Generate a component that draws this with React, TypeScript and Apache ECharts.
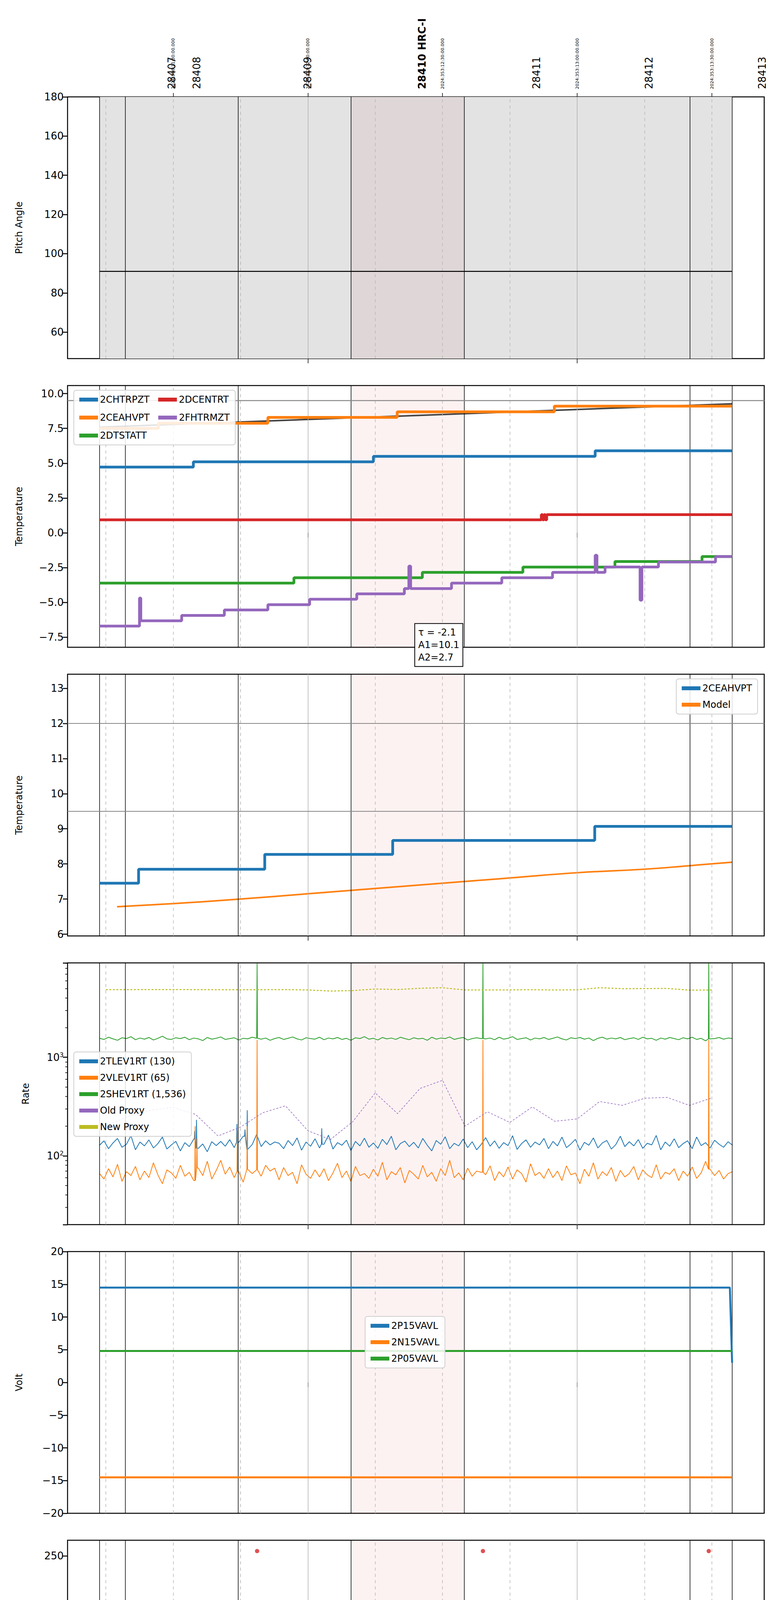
import { useEffect, useRef } from 'react';
import * as echarts from 'echarts';

// time axis: minutes after 06:00 on 2024-12-18
const X_MIN = 6.48;
const X_MAX = 161.65;
const QUARTERS = [15, 30, 45, 75, 90, 105, 135, 150];
const HOURS = [60, 120];
const EVENTS = [13.6, 19.3, 44.5, 69.6, 94.8, 145.1, 154.5];
const OBS_WINDOW = [69.6, 94.8];
const PITCH_WINDOW = [13.6, 154.5];

const OBSIDS = ['28407', '28408', '28409', '28410 HRC-I', '28411', '28412', '28413'];
const OBSID_T = [29.7, 35.3, 60.0, 85.5, 110.9, 136.0, 161.2];
const STAMP_T = [30, 60, 90, 120, 150];
const STAMPS = ['2024:353:11:30:00.000', '2024:353:12:00:00.000', '2024:353:12:30:00.000', '2024:353:13:00:00.000', '2024:353:13:30:00.000'];

// panel 1
const PITCH = [[13.6, 91], [154.5, 91]];

// panel 2
const CHTRPZT = [[13.6, 4.72], [34.5, 5.10], [74.6, 5.49], [124.0, 5.89], [154.5, 5.89]];
const CEAHVPT = [[13.6, 7.5], [26.7, 7.87], [51.1, 8.29], [79.9, 8.69], [114.9, 9.10], [154.5, 9.10]];
const CEAHVPT_FIT = [[13.6, 7.59], [154.5, 9.27]];
const DTSTATT = [[13.6, -3.62], [56.9, -3.23], [85.5, -2.85], [107.9, -2.47], [128.4, -2.07], [147.8, -1.71], [154.5, -1.71]];
const DCENTRT = [[13.6, 0.93], [112.0, 1.3], [112.3, 0.93], [112.6, 1.3], [112.9, 0.93], [113.2, 1.3], [154.5, 1.3]];
const FHTRMZT_A = [[13.6, -6.71], [22.5, -4.69], [22.8, -6.33], [31.9, -5.94], [41.4, -5.55], [51.1, -5.17], [60.4, -4.78], [70.9, -4.39], [81.5, -4.01], [82.5, -2.40], [82.9, -4.01], [92.0, -3.62], [103.2, -3.23], [114.5, -2.85], [124.0, -1.62], [124.4, -2.85], [126.2, -2.46], [134.0, -4.85], [134.4, -2.46], [138.1, -2.10], [150.8, -1.71], [154.5, -1.71]];
const FIT_TEXT = ['τ = -2.1', 'A1=10.1', 'A2=2.7'];

// panel 3
const CEAHVPT_B = [[13.6, 7.45], [22.3, 7.85], [50.4, 8.27], [78.9, 8.67], [123.9, 9.07], [154.5, 9.07]];
const MODEL = [[17.5, 6.78], [30, 6.87], [45, 7.0], [60, 7.15], [75, 7.3], [90, 7.45], [105, 7.6], [120, 7.75], [135, 7.85], [145, 7.95], [154.5, 8.05]];

// panel 4 (one sample per minute from 13.6)
const RATE_T0 = 13.6;
const TLEV1RT = [
  128, 142, 118, 135, 150, 122, 131, 160, 115, 138,
  126, 145, 120, 133, 155, 117, 129, 140, 112, 136,
  124, 148, 119, 132, 110, 139, 127, 140, 125, 146,
  121, 137, 158, 116, 130, 165, 124, 142, 129, 138,
  134, 118, 143, 127, 152, 114, 138, 125, 149, 120,
  131, 162, 117, 136, 128, 144, 113, 140, 126, 151,
  122, 135, 119, 147, 130, 158, 115, 133, 141, 124,
  137, 120, 150, 128, 112, 143, 131, 156, 118, 134,
  126, 148, 121, 139, 115, 130, 153, 125, 142, 119,
  136, 127, 160, 116, 133, 145, 122, 138, 129, 150,
  118, 140, 126, 155, 121, 132, 147, 114, 137, 128,
  152, 120, 135, 143, 117, 130, 158, 124, 139, 126,
  146, 119, 134, 129, 161, 115, 138, 125, 149, 121,
  133, 142, 118, 155, 127, 136, 120, 144, 131, 122,
  139, 128,
];
const VLEV1RT = [
  66, 58, 74, 61, 82, 55, 69, 63, 78, 57,
  70, 60, 85, 64, 52, 72, 67, 59, 80, 62,
  68, 56, 75, 63, 88, 58, 71, 90, 65, 77,
  60, 69, 54, 73, 66, 72, 62, 80, 70, 75,
  57, 76, 63, 68, 52, 81, 65, 59, 72, 61,
  74, 56, 67, 84, 60, 70, 55, 78, 63, 66,
  59, 73, 62, 86, 57, 69, 64, 76, 53, 71,
  65, 58, 80, 61, 68, 55, 74, 63, 90, 60,
  67, 57, 75, 62, 70, 68, 64, 79, 56, 69,
  61, 77, 58, 72, 66, 54, 83, 63, 68, 59,
  74, 60, 70, 56, 79, 64, 67, 52, 73, 62,
  85, 58, 69, 63, 76, 55, 71, 61, 66, 78,
  57, 72, 64, 60, 81, 58, 68, 65, 74, 56,
  70, 62, 77, 59, 67, 88, 73, 63, 71, 58,
  66, 69,
];
const SHEV1RT = [
  1560, 1520, 1600, 1540, 1490, 1580, 1550, 1620, 1510, 1570,
  1530, 1590, 1500, 1560, 1640, 1540, 1520, 1580, 1550, 1600,
  1510, 1570, 1540, 1480, 1590, 1530, 1560, 1610, 1520, 1550,
  1580, 1500, 1560, 1540, 1600, 1560, 1530, 1570, 1490, 1550,
  1590, 1520, 1560, 1610, 1540, 1500, 1580, 1550, 1530, 1600,
  1510, 1570, 1540, 1590, 1520, 1560, 1490, 1580, 1550, 1620,
  1530, 1560, 1500, 1590, 1540, 1570, 1520, 1600, 1550, 1510,
  1580, 1540, 1560, 1490, 1600, 1530, 1570, 1550, 1610, 1520,
  1560, 1590, 1500, 1550, 1580, 1550, 1540, 1570, 1510, 1600,
  1530, 1560, 1620, 1520, 1550, 1580, 1500, 1570, 1540, 1590,
  1520, 1560, 1610, 1540, 1500, 1580, 1550, 1590, 1530, 1570,
  1480, 1560, 1600, 1530, 1570, 1540, 1590, 1510, 1550, 1580,
  1520, 1600, 1540, 1560, 1490, 1570, 1530, 1590, 1550, 1510,
  1580, 1540, 1600, 1520, 1560, 1470, 1540, 1550, 1590, 1530,
  1570, 1550,
];
// narrow spikes [time, value]
const TLEV1RT_SPIKES = [[34.8, 178], [35.2, 232], [44.2, 210], [46.0, 185], [46.5, 290], [63.1, 190]];
const VLEV1RT_SPIKES = [[34.9, 200], [35.3, 150], [48.7, 1500], [44.3, 180], [46.5, 200], [99.0, 1500], [149.3, 1500]];
const SHEV1RT_SPIKES = [[48.7, 9000], [99.0, 9000], [149.3, 9000]];
const PROXY_T = [15, 20, 25, 30, 35, 40, 45, 50, 55, 60, 65, 70, 75, 80, 85, 90, 95, 100, 105, 110, 115, 120, 125, 130, 135, 140, 145, 150];
const OLD_PROXY = [200, 250, 290, 311, 263, 159, 196, 274, 322, 180, 146, 222, 435, 268, 483, 584, 200, 280, 218, 314, 224, 237, 356, 325, 384, 392, 325, 387];
const NEW_PROXY = [4870, 4870, 4880, 4880, 4870, 4860, 4850, 4860, 4870, 4830, 4710, 4760, 4940, 4880, 5030, 5090, 4830, 4830, 4840, 4860, 4830, 4850, 5090, 4980, 4990, 5010, 4810, 4830];

// panel 5
const P15VAVL = [[13.6, 14.5], [154.0, 14.5], [154.5, 3.0]];
const N15VAVL = [[13.6, -14.5], [154.5, -14.5]];
const P05VAVL = [[13.6, 4.8], [154.5, 4.8]];

// panel 6
const HV_SPAN = [13.6, 154.5];
const IMHBLV_LEVEL = 85;
const IMHVLV_LEVEL = 79;
const IMHBLV_OUT = [[15.6, 79], [35.5, 79], [48.7, 255], [99.0, 255], [149.3, 255]];
const IMHVLV_OUT = [[15.6, 127], [35.5, 127]];

// panel 7
const SPINATM = [[13.6, -1], [14.2, 3.15], [15.6, -1], [16.0, 3.15], [16.9, -1], [17.3, 3.15], [33.1, -1], [33.5, 3.15], [35.5, -1], [35.9, 3.15], [37.0, -1], [37.4, 3.15], [40.3, -1], [40.7, 3.15], [43.8, -1], [44.2, 3.15], [138.4, 3.63], [154.5, 3.63]];
const SPHVATM = [[13.6, 8.3], [14.8, 15.34], [15.6, 8.3], [16.0, 15.34], [16.9, 8.6], [17.3, 15.34], [32.6, 8.9], [33.3, 15.34], [34.6, 8.9], [35.6, 15.34], [36.9, 9.2], [37.3, 15.34], [40.3, 9.2], [40.7, 15.34], [43.8, 9.2], [44.2, 15.34], [51.3, 15.68], [80.2, 16.03], [109.6, 16.38], [144.8, 16.72], [154.5, 16.72]];
const IMINATM = [[13.6, 3.2], [14.2, 0.79], [15.6, 3.2], [16.0, 0.79], [16.9, 3.2], [17.3, 0.79], [33.1, 3.2], [33.5, 0.79], [35.5, 3.2], [35.9, 0.79], [37.0, 3.2], [37.4, 0.79], [40.3, 3.2], [40.7, 0.79], [43.8, 3.2], [44.2, 0.79], [86.8, 1.25], [154.5, 1.25]];
const IMHVATM = [[13.6, 15.4], [13.9, 14.97], [15.3, 15.35], [21.8, 15.7], [29.4, 16.03], [32.6, 15.3], [33.0, 16.03], [34.5, 15.3], [35.6, 16.03], [37.0, 15.3], [37.4, 16.03], [38.9, 15.3], [39.3, 16.03], [40.3, 15.3], [40.7, 16.03], [43.0, 16.35], [48.7, -1], [49.0, 16.35], [52.2, 16.75], [64.7, 17.05], [80.4, 17.45], [98.8, -1], [99.2, 17.8], [122.1, 18.15], [149.3, -1], [149.6, 18.15], [151.9, 18.5], [154.5, 18.5]];

// panel 8
const FHTRMZT_B = [[13.6, -6.79], [22.5, -4.78], [22.8, -6.39], [31.9, -6.0], [41.4, -5.6], [51.1, -5.21], [60.4, -4.82], [70.9, -4.43], [81.5, -4.04], [82.5, -2.48], [82.9, -4.04], [92.0, -3.66], [103.2, -3.27], [114.5, -2.89], [124.0, -1.73], [124.4, -2.89], [126.2, -2.52], [134.0, -4.85], [134.4, -2.52], [138.1, -2.14], [150.8, -1.76], [154.5, -1.76]];
const FRADPYT = [[13.6, -9.21], [21.4, -8.81], [32.2, -8.40], [43.0, -7.98], [53.6, -7.59], [64.4, -7.18], [76.0, -6.79], [87.9, -6.39], [99.8, -5.99], [112.1, -5.60], [125.3, -5.20], [138.7, -4.81], [152.5, -4.43], [154.5, -4.43]];
const FEPRATM = [[13.6, -5.63], [14.5, -5.22], [23.4, -4.79], [31.1, -4.37], [39.2, -3.95], [48.0, -3.54], [48.6, -6.0], [48.9, -3.54], [57.4, -3.13], [67.8, -2.70], [78.3, -2.28], [89.8, -1.84], [98.9, -3.6], [99.2, -1.84], [101.6, -1.42], [114.4, -0.98], [127.3, -0.55], [141.2, -0.10], [149.2, -2.0], [149.5, -0.10], [154.5, -0.10]];
const FE00ATM = [[13.6, -7.88], [14.0, 1], [14.4, -7.88], [15.4, 1], [15.8, -7.88], [16.5, 1], [16.9, -7.49], [23.3, -7.11], [26.5, -6.8], [26.7, -7.11], [28.2, -6.8], [28.4, -7.11], [29.7, -6.77], [32.4, 1], [32.8, -6.77], [34.2, 1], [34.6, -6.77], [35.2, 1], [35.6, -6.77], [36.4, -6.42], [37.0, 1], [37.3, -6.42], [38.9, 1], [39.3, -6.42], [40.3, 1], [40.6, -6.42], [43.0, -6.06], [43.8, 1], [44.1, -6.06], [48.7, -10], [49.0, -6.06], [50.2, -5.72], [57.8, -5.36], [65.8, -5.02], [73.8, -4.67], [82.1, -4.33], [88.8, -3.95], [89.1, -4.33], [90.4, -3.99], [99.0, -10], [99.3, -3.65], [106.5, -3.3], [106.8, -3.65], [108.1, -3.30], [112.0, -2.95], [112.3, -3.30], [117.7, -2.97], [124.2, -3.3], [124.5, -2.97], [127.3, -2.62], [136.7, -2.30], [146.7, -1.97], [149.3, -10], [149.6, -1.97], [153.6, -1.6], [153.9, -1.97], [154.5, -1.97]];

const C = { blue: '#1f77b4', orange: '#ff7f0e', green: '#2ca02c', red: '#d62728', purple: '#9467bd', olive: '#bcbd22' };
const FONT = 'DejaVu Sans';
const TOP0 = 248;
const STEP = 739;
const H = 670;

const Y_AXES: any[] = [
  { name: 'Pitch Angle', min: 46.5, max: 180, ticks: [60, 80, 100, 120, 140, 160, 180], dec: 0 },
  { name: 'Temperature', min: -8.23, max: 10.58, ticks: [-7.5, -5, -2.5, 0, 2.5, 5, 7.5, 10], dec: 1 },
  { name: 'Temperature', min: 5.95, max: 13.4, ticks: [6, 7, 8, 9, 10, 11, 12, 13], dec: 0 },
  { name: 'Rate', type: 'log', min: 20, max: 9100 },
  { name: 'Volt', min: -20, max: 20, ticks: [-20, -15, -10, -5, 0, 5, 10, 15, 20], dec: 0 },
  { name: 'HV Monitor', min: 0, max: 266, ticks: [0, 50, 100, 150, 200, 250], dec: 0 },
  { name: 'Detector Temp', min: -0.71, max: 19.28, ticks: [0, 2.5, 5, 7.5, 10, 12.5, 15, 17.5], dec: 1 },
  { name: 'FEA Temp', min: -9.49, max: 0.51, ticks: [-8, -6, -4, -2, 0], dec: 0 },
];

const withSpikes = (t0: number, values: number[], spikes: number[][]) => {
  const pts: number[][] = values.map((v, k) => [t0 + k, v]);
  spikes.forEach(([t, v]) => {
    const k = Math.min(values.length - 1, Math.max(0, Math.round(t - t0)));
    const base = values[k];
    pts.push([t - 0.08, base], [t, v], [t + 0.08, base]);
  });
  return pts.sort((a, b) => a[0] - b[0]);
};

const stepLine = (name: string, data: number[][], color: string, i: number, extra: any = {}) => ({
  type: 'line', name, data, step: 'end', xAxisIndex: i, yAxisIndex: i, showSymbol: false,
  lineStyle: { color, width: 7 }, itemStyle: { color }, z: 5, ...extra,
});

const overlay = (i: number) => {
  const areas: any[] = [];
  if (i === 0) areas.push([{ xAxis: PITCH_WINDOW[0], itemStyle: { color: '#e3e3e3' } }, { xAxis: PITCH_WINDOW[1] }]);
  areas.push([{ xAxis: OBS_WINDOW[0], itemStyle: { color: i === 0 ? 'rgba(200,120,120,0.10)' : 'rgba(240,128,128,0.1)' } }, { xAxis: OBS_WINDOW[1] }]);
  const lines: any[] = [
    ...QUARTERS.map((v) => ({ xAxis: v, lineStyle: { color: '#b8b8b8', type: [8, 8], width: 1.5 } })),
    ...HOURS.map((v) => ({ xAxis: v, lineStyle: { color: '#b0b0b0', type: 'solid', width: 1.5 } })),
    ...EVENTS.map((v) => ({ xAxis: v, lineStyle: { color: '#000', type: 'solid', width: 1.5 } })),
  ];
  if (i === 1) lines.push({ yAxis: 9.5, lineStyle: { color: '#888', type: 'solid', width: 2.5 } });
  if (i === 2) {
    lines.push({ yAxis: 12, lineStyle: { color: '#888', type: 'solid', width: 2 } });
    lines.push({ yAxis: 9.5, lineStyle: { color: '#888', type: 'solid', width: 2 } });
  }
  return {
    type: 'line', data: [], xAxisIndex: i, yAxisIndex: i, silent: true, z: 1,
    markArea: { silent: true, data: areas },
    markLine: { silent: true, symbol: ['none', 'none'], label: { show: false }, data: lines },
  };
};

const legendBase = {
  textStyle: { fontFamily: FONT, fontSize: 24, color: '#000' },
  backgroundColor: 'rgba(255,255,255,0.85)', borderColor: '#d0d0d0', borderWidth: 2, borderRadius: 6,
  padding: [12, 14], itemGap: 18, itemWidth: 48, itemHeight: 10, icon: 'rect', orient: 'vertical', z: 20,
};
const li = (name: string, color: string) => ({ name, itemStyle: { color } });
const minus = (s: string) => s.replace('-', '\u2212');

export default function App() {
  const ref = useRef<HTMLDivElement>(null);

  useEffect(() => {
    if (!ref.current) return;
    document.body.style.margin = '0';
    const chart = echarts.init(ref.current, null, { renderer: 'svg' });

    const grids = Y_AXES.map((_, i) => ({
      left: 173, right: 43, top: TOP0 + STEP * i, height: H,
      show: true, borderColor: '#000', borderWidth: 2.5, backgroundColor: 'transparent',
    }));

    const xAxes: any[] = Y_AXES.map((_, i) => ({
      type: 'value', gridIndex: i, min: X_MIN, max: X_MAX, position: 'bottom',
      axisLine: { show: false }, splitLine: { show: false },
      axisTick: i === 7
        ? { show: true, customValues: QUARTERS, length: 8, lineStyle: { color: '#000', width: 1.5 } }
        : { show: true, customValues: HOURS, length: 12, lineStyle: { color: '#000', width: 1.5 } },
      axisLabel: i === 7
        ? { show: true, customValues: QUARTERS, formatter: (v: number) => String(v % 60), fontFamily: FONT, fontSize: 19, color: '#000', margin: 8 }
        : { show: false },
    }));
    xAxes.push({
      type: 'value', gridIndex: 7, min: X_MIN, max: X_MAX, position: 'bottom',
      axisLine: { show: false }, splitLine: { show: false },
      axisTick: { show: true, customValues: HOURS, length: 45, lineStyle: { color: '#000', width: 1.5 } },
      axisLabel: { show: true, customValues: HOURS, formatter: (v: number) => `0${6 + v / 60}h`, fontFamily: FONT, fontSize: 26, color: '#000', margin: 40 },
      name: '2024-12-18 (353)', nameLocation: 'middle', nameGap: 82,
      nameTextStyle: { fontFamily: FONT, fontSize: 30, color: '#000' },
    });
    xAxes.push({
      type: 'value', gridIndex: 0, min: X_MIN, max: X_MAX, position: 'top',
      axisLine: { show: false }, splitLine: { show: false },
      axisTick: { show: true, customValues: STAMP_T, length: 10, lineStyle: { color: '#000', width: 1.5 } },
      axisLabel: { show: false },
    });

    const yAxes = Y_AXES.map((a, i) => {
      const log = a.type === 'log';
      return {
        type: log ? 'log' : 'value', gridIndex: i, min: a.min, max: a.max,
        ...(log ? { logBase: 10, minorTick: { show: true, splitNumber: 9, length: 6, lineStyle: { color: '#000', width: 1.5 } } } : {}),
        name: a.name, nameLocation: 'middle', nameGap: log ? 95 : 112,
        nameTextStyle: { fontFamily: FONT, fontSize: 24, color: '#000' },
        axisLine: { show: false }, splitLine: { show: false },
        axisTick: { show: true, length: 12, lineStyle: { color: '#000', width: 2.5 }, ...(log ? {} : { customValues: a.ticks }) },
        axisLabel: {
          fontFamily: FONT, fontSize: 26, color: '#000', margin: 10,
          ...(log ? { showMinLabel: false, showMaxLabel: false } : { customValues: a.ticks }),
          formatter: log
            ? (v: number) => `{b|10}{s|${Math.round(Math.log10(v))}}`
            : (v: number) => minus(v.toFixed(a.dec)),
          rich: { b: { fontFamily: FONT, fontSize: 26 }, s: { fontFamily: FONT, fontSize: 16, verticalAlign: 'top', padding: [0, 0, 12, 0] } },
        },
      };
    });

    const hvT: number[] = [];
    for (let t = HV_SPAN[0]; t <= HV_SPAN[1]; t += 0.4) hvT.push(t);

    const rateLine = (name: string, data: number[][], color: string) => ({
      type: 'line', name, data, xAxisIndex: 3, yAxisIndex: 3, showSymbol: false,
      lineStyle: { color, width: 2 }, itemStyle: { color },
    });

    const series: any[] = [
      ...Y_AXES.map((_, i) => overlay(i)),
      stepLine('Pitch', PITCH, '#000', 0, { lineStyle: { color: '#000', width: 2.5 } }),
      // panel 2
      { type: 'line', name: 'fit', data: CEAHVPT_FIT, xAxisIndex: 1, yAxisIndex: 1, showSymbol: false, lineStyle: { color: '#444', width: 4 }, z: 4 },
      stepLine('2CHTRPZT', CHTRPZT, C.blue, 1),
      stepLine('2CEAHVPT', CEAHVPT, C.orange, 1),
      stepLine('2DTSTATT', DTSTATT, C.green, 1),
      stepLine('2DCENTRT', DCENTRT, C.red, 1),
      stepLine('2FHTRMZT', FHTRMZT_A, C.purple, 1),
      // panel 3
      stepLine('2CEAHVPT', CEAHVPT_B, C.blue, 2),
      { type: 'line', name: 'Model', data: MODEL, xAxisIndex: 2, yAxisIndex: 2, showSymbol: false, smooth: true, lineStyle: { color: C.orange, width: 4 }, itemStyle: { color: C.orange } },
      // panel 4
      rateLine('2TLEV1RT (130)', withSpikes(RATE_T0, TLEV1RT, TLEV1RT_SPIKES), C.blue),
      rateLine('2VLEV1RT (65)', withSpikes(RATE_T0, VLEV1RT, VLEV1RT_SPIKES), C.orange),
      rateLine('2SHEV1RT (1,536)', withSpikes(RATE_T0, SHEV1RT, SHEV1RT_SPIKES), C.green),
      { type: 'line', name: 'Old Proxy', data: PROXY_T.map((t, k) => [t, OLD_PROXY[k]]), xAxisIndex: 3, yAxisIndex: 3, showSymbol: false, lineStyle: { color: C.purple, width: 1.5, type: [5, 4] }, itemStyle: { color: C.purple } },
      { type: 'line', name: 'New Proxy', data: PROXY_T.map((t, k) => [t, NEW_PROXY[k]]), xAxisIndex: 3, yAxisIndex: 3, showSymbol: false, lineStyle: { color: C.olive, width: 2.5, type: [5, 4] }, itemStyle: { color: C.olive } },
      // panel 5
      stepLine('2P15VAVL', P15VAVL, C.blue, 4, { step: false, lineStyle: { color: C.blue, width: 5 } }),
      stepLine('2N15VAVL', N15VAVL, C.orange, 4, { lineStyle: { color: C.orange, width: 5 } }),
      stepLine('2P05VAVL', P05VAVL, C.green, 4, { lineStyle: { color: C.green, width: 5 } }),
      // panel 6
      { type: 'scatter', name: '2SPHBLV', data: [], xAxisIndex: 5, yAxisIndex: 5, itemStyle: { color: C.blue } },
      { type: 'scatter', name: '2SPHVLV', data: [], xAxisIndex: 5, yAxisIndex: 5, itemStyle: { color: C.orange } },
      { type: 'scatter', name: '2IMHVLV', data: [...hvT.map((t) => [t, IMHVLV_LEVEL]), ...IMHVLV_OUT], xAxisIndex: 5, yAxisIndex: 5, symbolSize: 11, itemStyle: { color: C.green } },
      { type: 'scatter', name: '2IMHBLV', data: [...hvT.map((t) => [t, IMHBLV_LEVEL]), ...IMHBLV_OUT], xAxisIndex: 5, yAxisIndex: 5, symbolSize: 11, itemStyle: { color: C.red } },
      // panel 7
      stepLine('2SPINATM', SPINATM, C.blue, 6),
      stepLine('2SPHVATM', SPHVATM, C.orange, 6),
      stepLine('2IMINATM', IMINATM, C.green, 6),
      stepLine('2IMHVATM', IMHVATM, C.red, 6),
      // panel 8
      stepLine('2FHTRMZT', FHTRMZT_B, C.blue, 7),
      stepLine('2FRADPYT', FRADPYT, C.orange, 7),
      stepLine('2FEPRATM', FEPRATM, C.green, 7),
      stepLine('2FE00ATM', FE00ATM, C.red, 7),
    ];

    const legends: any[] = [
      { ...legendBase, orient: 'horizontal', width: 520, left: 189, top: TOP0 + STEP + 12, itemGap: 22,
        data: [li('2CHTRPZT', C.blue), li('2DCENTRT', C.red), li('2CEAHVPT', C.orange), li('2FHTRMZT', C.purple), li('2DTSTATT', C.green)] },
      { ...legendBase, right: 60, top: TOP0 + STEP * 2 + 12, data: [li('2CEAHVPT', C.blue), li('Model', C.orange)] },
      { ...legendBase, left: 189, top: TOP0 + STEP * 3 + 228,
        data: [li('2TLEV1RT (130)', C.blue), li('2VLEV1RT (65)', C.orange), li('2SHEV1RT (1,536)', C.green),
          { name: 'Old Proxy', icon: 'rect', itemStyle: { color: C.purple } }, { name: 'New Proxy', itemStyle: { color: C.olive } }] },
      { ...legendBase, left: 935, top: TOP0 + STEP * 4 + 166, data: [li('2P15VAVL', C.blue), li('2N15VAVL', C.orange), li('2P05VAVL', C.green)] },
      { ...legendBase, left: 953, top: TOP0 + STEP * 5 + 478, icon: 'circle', itemWidth: 12, itemHeight: 12, itemGap: 20,
        data: [li('2SPHBLV', C.blue), li('2SPHVLV', C.orange), li('2IMHVLV', C.green), li('2IMHBLV', C.red)] },
      { ...legendBase, left: 940, top: TOP0 + STEP * 6 + 247, data: [li('2SPINATM', C.blue), li('2SPHVATM', C.orange), li('2IMINATM', C.green), li('2IMHVATM', C.red)] },
      { ...legendBase, left: 189, top: TOP0 + STEP * 7 + 12, data: [li('2FHTRMZT', C.blue), li('2FRADPYT', C.orange), li('2FEPRATM', C.green), li('2FE00ATM', C.red)] },
    ];

    chart.setOption({
      animation: false,
      backgroundColor: '#fff',
      textStyle: { fontFamily: FONT },
      grid: grids, xAxis: xAxes, yAxis: yAxes, legend: legends, series,
    });

    // top labels and the fit annotation, placed through the axes
    const graphics: any[] = [];
    const baseY = TOP0 - 20;
    OBSIDS.forEach((label, k) => {
      const [px] = chart.convertToPixel({ gridIndex: 0 }, [OBSID_T[k], 180]) as number[];
      graphics.push({
        type: 'text', x: px, y: baseY, rotation: Math.PI / 2,
        style: { text: label, fontFamily: FONT, fontSize: 26, fontWeight: label.includes('HRC') ? 'bold' : 'normal', fill: '#000', align: 'left', verticalAlign: 'middle' },
      });
    });
    STAMP_T.forEach((t, k) => {
      const [px] = chart.convertToPixel({ gridIndex: 0 }, [t, 180]) as number[];
      graphics.push({
        type: 'text', x: px, y: baseY, rotation: Math.PI / 2,
        style: { text: STAMPS[k], fontFamily: FONT, fontSize: 11, fill: '#000', align: 'left', verticalAlign: 'middle' },
      });
    });
    const [ax, ay] = chart.convertToPixel({ gridIndex: 1 }, [83.9, -6.55]) as number[];
    graphics.push({
      type: 'text', x: ax, y: ay, z: 100,
      style: {
        text: FIT_TEXT.join('\n'), fontFamily: FONT, fontSize: 24, lineHeight: 32, fill: '#000',
        backgroundColor: '#fff', borderColor: '#000', borderWidth: 2, padding: [6, 8],
      },
    });
    chart.setOption({ graphic: graphics });

    return () => chart.dispose();
  }, []);

  return <div ref={ref} style={{ width: 2000, height: 6200 }} />;
}
